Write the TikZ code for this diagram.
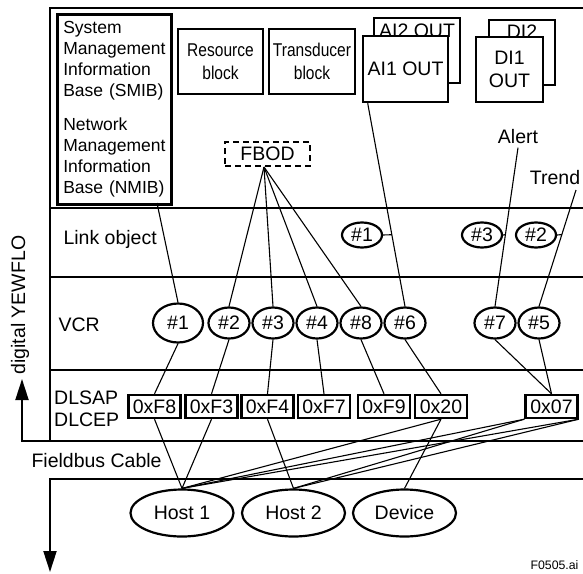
\documentclass[tikz,border=0pt]{standalone}
\usepackage{fontspec}
\setmainfont{Liberation Sans}
\newfontfamily\narrowfont[FakeStretch=0.84]{Liberation Sans}
\usetikzlibrary{calc,shapes.geometric,arrows.meta}
\tikzset{
	layer/.style={line width=2pt},
	wire/.style={line width=1.1pt},
	blockbox/.style={draw, line width=2.6pt, fill=white, inner sep=0pt, align=center},
	hashnode/.style={ellipse, draw, line width=2.2pt, inner sep=0pt, minimum width=41pt, minimum height=31pt},
	addrbox/.style={draw, line width=2.4pt, inner sep=0pt, minimum width=52pt, minimum height=23pt},
	hostnode/.style={ellipse, draw, line width=2.2pt, inner sep=0pt, minimum width=103pt, minimum height=47pt},
	tip/.style={-{Triangle[length=21pt,width=13pt]}},
}

\begin{document}
\begin{tikzpicture}[x=1pt, y=-1pt, font=\fontsize{19.5}{23}\selectfont]
			%%%%% START %%%%%
			\useasboundingbox (0,0) rectangle (583,573);
			
			% layers of the device
			\draw[layer] (50,441) -- (50,8) -- (583,8);
			\draw[layer] (50,208) -- (583,208);
			\draw[layer] (50,277) -- (583,277);
			\draw[layer] (50,370) -- (583,370);
			\draw[layer, tip] (583,441) -- (22,441) -- (22,379);
			\draw[layer, tip] (583,479) -- (50,479) -- (50,572);
			
			\node[rotate=90] (yewflo) at (20,305) {digital YEWFLO};
			\node[anchor=base west] (cable) at (28,467) {Fieldbus Cable};
			\node[anchor=base west] (lnkrow) at (60,244) {Link object};
			\node[anchor=base west] (vcrrow) at (55,331) {VCR};
			\node[anchor=west, align=left, inner sep=0pt, font=\fontsize{19.5}{22}\selectfont] (saprow) at (54,409) {DLSAP\\DLCEP};
			
			% top row
			\node[draw, line width=2.6pt, anchor=north west, minimum width=114pt, minimum height=190pt, text width=102pt, inner xsep=6pt, align=left, font=\fontsize{17.5}{21}\selectfont] (smib) at (56,13) {System\\Management\\Information\\Base (SMIB)\\[13pt]Network\\Management\\Information\\Base (NMIB)};
			
			\node[blockbox, minimum width=85pt, minimum height=65pt, font=\narrowfont\fontsize{18.5}{23}\selectfont] (res) at (220.5,61.5) {Resource\\block};
			\node[blockbox, minimum width=86pt, minimum height=65pt, font=\narrowfont\fontsize{18.5}{23}\selectfont] (trd) at (312,61.5) {Transducer\\block};
			
			\node[blockbox, minimum width=86pt, minimum height=65pt, label={[anchor=north, inner sep=0pt, yshift=-7pt]north:AI2 OUT}] (ai2) at (417,50.5) {};
			\node[blockbox, minimum width=85pt, minimum height=66pt] (ai1) at (405.5,69) {AI1 OUT};
			\node[blockbox, minimum width=66pt, minimum height=65pt, label={[anchor=north, inner sep=0pt, yshift=-6pt]north:DI2}] (di2) at (522,52.5) {};
			\node[blockbox, minimum width=67pt, minimum height=65pt] (di1) at (509.5,69.5) {DI1\\OUT};
			
			\node[draw, line width=2pt, dash pattern=on 6pt off 4pt, minimum width=85pt, minimum height=24pt, inner sep=0pt] (fbod) at (267.5,154) {FBOD};
			\node (alert) at (518,137) {Alert};
			\node (trend) at (555,178) {Trend};
			
			% link objects
			\node[hashnode, minimum width=40pt, minimum height=25pt] (l1) at (362,235) {\#1};
			\node[hashnode, minimum width=40pt, minimum height=25pt] (l3) at (482,235) {\#3};
			\node[hashnode, minimum width=40pt, minimum height=25pt] (l2) at (536,235) {\#2};
			
			% VCR
			\node[hashnode, minimum width=50pt, minimum height=39pt] (v1) at (178,323) {\#1};
			\node[hashnode] (v2) at (229,323) {\#2};
			\node[hashnode] (v3) at (273,323) {\#3};
			\node[hashnode] (v4) at (317,323) {\#4};
			\node[hashnode] (v8) at (361,323) {\#8};
			\node[hashnode] (v6) at (405,323) {\#6};
			\node[hashnode] (v7) at (495,323) {\#7};
			\node[hashnode] (v5) at (539,323) {\#5};
			
			% DLSAP / DLCEP
			\node[addrbox] (bF8) at (154.5,406.5) {0xF8};
			\node[addrbox] (bF3) at (211.5,406.5) {0xF3};
			\node[addrbox] (bF4) at (267.5,406.5) {0xF4};
			\node[addrbox] (bF7) at (324,406.5) {0xF7};
			\node[addrbox] (bF9) at (384,406.5) {0xF9};
			\node[addrbox] (b20) at (441,406.5) {0x20};
			\node[addrbox] (b07) at (551.5,406.5) {0x07};
			
			% stations on the cable
			\node[hostnode] (h1) at (182,513) {Host 1};
			\node[hostnode] (h2) at (293.5,513) {Host 2};
			\node[hostnode] (dev) at (404.5,513) {Device};
			
			\node[anchor=base east, font=\fontsize{12.3}{14}\selectfont] (fig) at (582,569) {F0505.ai};
			
			% connections
			\coordinate (smibpt) at (157,203);
			\coordinate (fbpt) at (264,167);
			\coordinate (ai1pt) at ([xshift=6pt]ai1.south west);
			\coordinate (trpt) at (576,190);
			
			\draw[wire] (smibpt) -- (v1.north);
			\draw[wire] (fbpt) -- (v2.north);
			\draw[wire] (fbpt) -- (v3.north);
			\draw[wire] (fbpt) -- (v4.north);
			\draw[wire] (fbpt) -- (v8.north);
			\draw[wire] (ai1pt) -- (v6.north);
			\draw[wire] (alert.south) -- (v7.north);
			\draw[wire] (trpt) -- (v5.north);
			
			\coordinate (t1) at ($(ai1pt)!0.647!(v6.north)$);
			\coordinate (t3) at ($(alert.south)!0.548!(v7.north)$);
			\coordinate (t2) at ($(trpt)!0.383!(v5.north)$);
			\draw[wire] (l1.east) -- (t1);
			\draw[wire] (l3.east) -- (t3);
			\draw[wire] (l2.east) -- (t2);
			
			\draw[wire] (v1.south) -- (bF8.north);
			\draw[wire] (v2.south) -- (bF3.north);
			\draw[wire] (v3.south) -- (bF4.north);
			\draw[wire] (v4.south) -- (bF7.north);
			\draw[wire] (v8.south) -- (bF9.north);
			\draw[wire] (v6.south) -- (b20.north);
			\draw[wire] (v7.south) -- (b07.north);
			\draw[wire] (v5.south) -- (b07.north);
			
			\draw[wire] (bF8.south) -- (h1.north);
			\draw[wire] (bF3.south) -- (h1.north);
			\draw[wire] (b20.south) -- (h1.north);
			\draw[wire] (b07.south west) -- (h1.north);
			\draw[wire] (b07.south east) -- (h1.north);
			\draw[wire] (bF4.south) -- (h2.north);
			\draw[wire] (b07.south west) -- (h2.north);
			\draw[wire] (b07.south east) -- (h2.north);
			\draw[wire] (b20.south) -- (dev.north);
			
			%%%%% END %%%%%
\end{tikzpicture}
\end{document}
